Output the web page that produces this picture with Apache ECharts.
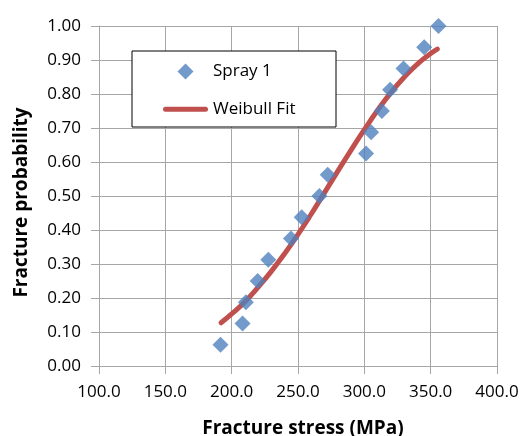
<!DOCTYPE html>
<html>
<head>
<meta charset="utf-8">
<script src="https://cdn.jsdelivr.net/npm/echarts@6/dist/echarts.min.js"></script>
<style>
html, body { margin: 0; padding: 0; background: #fff; }
#chart { width: 523px; height: 436px; }
</style>
</head>
<body>
<div id="chart"></div>
<script>
// measured points (stress MPa, probability)
const sprayStress = [191.6, 208.2, 210.7, 219.6, 227.6, 244.7, 252.8, 266.1, 272.4, 301.3, 305.1, 313.2, 319.4, 329.5, 345.1, 355.9]
const sprayProb = [0.0625, 0.125, 0.1875, 0.25, 0.3125, 0.375, 0.4375, 0.5, 0.5625, 0.625, 0.6875, 0.75, 0.8125, 0.875, 0.9375, 1.0]

// fit curve
const fitStress = [192, 200, 210, 220, 230, 240, 250, 260, 270, 280, 290, 300, 310, 320, 330, 340, 350, 355]
const fitProb = [0.127, 0.153, 0.189, 0.232, 0.279, 0.331, 0.387, 0.447, 0.51, 0.573, 0.635, 0.695, 0.752, 0.804, 0.849, 0.888, 0.919, 0.932]

const chart = echarts.init(document.getElementById('chart'))
const font = '"Open Sans", sans-serif'
const gridColor = '#a6a6a6'

const option = {
  animation: false,
  textStyle: { fontFamily: font },
  grid: { left: 99, right: 26, top: 26, bottom: 70, containLabel: false, outerBoundsMode: 'none' },
  graphic: [{
    type: 'rect',
    z: 3,
    shape: { x: 132, y: 51, width: 204, height: 76 },
    style: { fill: '#fff', stroke: '#000', lineWidth: 1 }
  }],
  legend: {
    orient: 'vertical',
    left: 163,
    top: 63,
    padding: 0,
    z: 5,
    itemWidth: 45,
    itemHeight: 16,
    itemGap: 20.7,
    symbolKeepAspect: true,
    textStyle: { fontSize: 17, color: '#000', fontFamily: font },
    data: [
      { name: 'Spray 1', icon: 'path://M7,0 L14,7 L7,14 L0,7 Z' },
      { name: 'Weibull Fit', icon: 'path://M2.5,0 L42.5,0 A2.5,2.5 0 0 1 42.5,5 L2.5,5 A2.5,2.5 0 0 1 2.5,0 Z' }
    ]
  },
  xAxis: {
    type: 'value',
    min: 100,
    max: 400,
    interval: 50,
    name: 'Fracture stress (MPa)',
    nameLocation: 'middle',
    nameGap: 53,
    nameTextStyle: { fontSize: 19, fontWeight: 'bold', color: '#000', padding: [0, 0, 0, 10] },
    axisLine: { lineStyle: { color: gridColor } },
    axisTick: { show: true, length: 8, lineStyle: { color: gridColor } },
    axisLabel: { fontSize: 17, color: '#000', margin: 18, formatter: v => v.toFixed(1) },
    splitLine: { lineStyle: { color: gridColor, width: 1 } }
  },
  yAxis: {
    type: 'value',
    min: 0,
    max: 1,
    interval: 0.1,
    name: 'Fracture probability',
    nameLocation: 'middle',
    nameGap: 68,
    nameTextStyle: { fontSize: 19, fontWeight: 'bold', color: '#000', padding: [0, 13, 0, 0] },
    axisLine: { show: true, lineStyle: { color: gridColor } },
    axisTick: { show: true, length: 8, lineStyle: { color: gridColor } },
    axisLabel: { fontSize: 17, color: '#000', margin: 18, formatter: v => v.toFixed(2) },
    splitLine: { lineStyle: { color: gridColor, width: 1 } }
  },
  series: [
    {
      name: 'Spray 1',
      type: 'scatter',
      symbol: 'diamond',
      symbolSize: 16,
      itemStyle: { color: '#4f81bd' },
      data: sprayStress.map((x, i) => [x, sprayProb[i]])
    },
    {
      name: 'Weibull Fit',
      type: 'line',
      smooth: true,
      symbol: 'none',
      z: 1,
      lineStyle: { color: '#c0504d', width: 5, cap: 'round' },
      itemStyle: { color: '#c0504d' },
      data: fitStress.map((x, i) => [x, fitProb[i]])
    }
  ]
}
chart.setOption(option)
</script>
</body>
</html>
